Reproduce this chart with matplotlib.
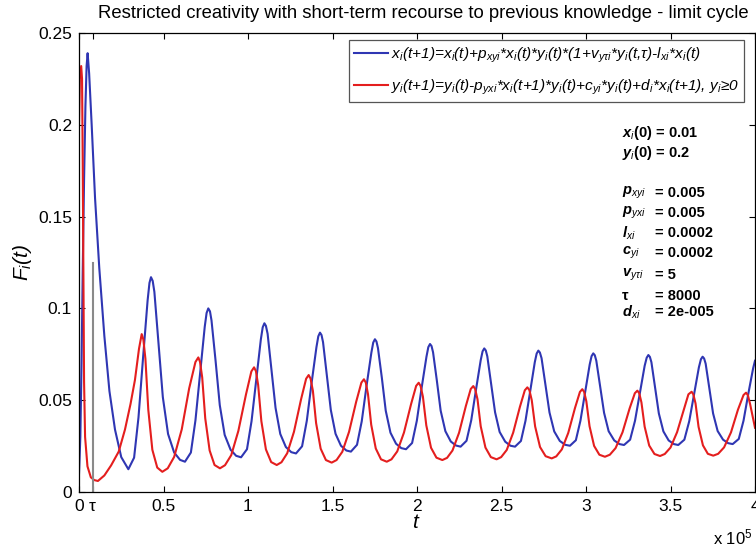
import matplotlib
matplotlib.use("Agg")
import matplotlib.pyplot as plt
from matplotlib.lines import Line2D

plt.rcParams['font.family'] = ['Liberation Sans', 'DejaVu Sans']
plt.rcParams['mathtext.fontset'] = 'custom'
plt.rcParams['mathtext.rm'] = 'Liberation Sans'
plt.rcParams['mathtext.it'] = 'Liberation Sans:italic'
plt.rcParams['mathtext.bf'] = 'Liberation Sans:bold'
plt.rcParams['mathtext.bfit'] = 'Liberation Sans:italic:bold'

# time in units of 1e5
t_blue = [0, 0.008, 0.015, 0.022, 0.030, 0.038, 0.045, 0.051,
          0.060, 0.075, 0.095, 0.120, 0.150, 0.180, 0.213, 0.250, 0.292,
          0.326, 0.352, 0.379, 0.406, 0.417, 0.426,
          0.436, 0.446, 0.470, 0.496, 0.527, 0.563, 0.598, 0.627,
          0.662, 0.689, 0.717, 0.744, 0.755, 0.765,
          0.775, 0.784, 0.808, 0.833, 0.862, 0.897, 0.930, 0.959,
          0.994, 1.021, 1.049, 1.076, 1.087, 1.097,
          1.106, 1.116, 1.138, 1.163, 1.191, 1.224, 1.256, 1.284,
          1.320, 1.348, 1.376, 1.405, 1.416, 1.426,
          1.435, 1.444, 1.466, 1.490, 1.518, 1.550, 1.582, 1.609,
          1.645, 1.673, 1.701, 1.730, 1.741, 1.751,
          1.760, 1.769, 1.792, 1.815, 1.843, 1.876, 1.907, 1.935,
          1.971, 1.999, 2.027, 2.056, 2.067, 2.077,
          2.086, 2.095, 2.117, 2.140, 2.168, 2.200, 2.231, 2.258,
          2.293, 2.321, 2.349, 2.377, 2.388, 2.398,
          2.407, 2.416, 2.438, 2.462, 2.489, 2.522, 2.553, 2.580,
          2.615, 2.642, 2.670, 2.697, 2.708, 2.718,
          2.727, 2.737, 2.759, 2.784, 2.812, 2.845, 2.877, 2.905,
          2.940, 2.967, 2.995, 3.022, 3.033, 3.043,
          3.052, 3.061, 3.083, 3.107, 3.134, 3.167, 3.198, 3.225,
          3.261, 3.290, 3.319, 3.347, 3.359, 3.369,
          3.378, 3.387, 3.408, 3.431, 3.458, 3.489, 3.520, 3.546,
          3.582, 3.611, 3.640, 3.668, 3.680, 3.690,
          3.699, 3.708, 3.729, 3.752, 3.779, 3.811, 3.841, 3.868,
          3.904, 3.932, 3.960, 3.989, 4.000]
x_blue = [0.010, 0.030, 0.070, 0.120, 0.170, 0.210, 0.232, 0.239,
          0.228, 0.200, 0.160, 0.122, 0.085, 0.055, 0.034, 0.019, 0.0124,
          0.0187, 0.0406, 0.0731, 0.1044, 0.1139, 0.117,
          0.115, 0.109, 0.0818, 0.0517, 0.0316, 0.0215, 0.0175, 0.0165,
          0.0215, 0.0390, 0.0649, 0.0900, 0.0975, 0.100,
          0.0984, 0.0935, 0.0716, 0.0473, 0.0311, 0.0230, 0.0197, 0.0189,
          0.0233, 0.0386, 0.0612, 0.0831, 0.0897, 0.0919,
          0.0905, 0.0862, 0.0671, 0.0458, 0.0316, 0.0245, 0.0217, 0.0210,
          0.0249, 0.0388, 0.0592, 0.0789, 0.0848, 0.0868,
          0.0855, 0.0816, 0.0641, 0.0447, 0.0317, 0.0252, 0.0226, 0.0220,
          0.0257, 0.0385, 0.0575, 0.0759, 0.0814, 0.0832,
          0.0820, 0.0784, 0.0622, 0.0443, 0.0323, 0.0263, 0.0239, 0.0233,
          0.0267, 0.0388, 0.0565, 0.0737, 0.0789, 0.0806,
          0.0795, 0.0761, 0.0610, 0.0443, 0.0331, 0.0275, 0.0253, 0.0247,
          0.0279, 0.0391, 0.0557, 0.0718, 0.0766, 0.0782,
          0.0771, 0.0739, 0.0595, 0.0434, 0.0327, 0.0274, 0.0252, 0.0247,
          0.0278, 0.0388, 0.0550, 0.0707, 0.0754, 0.0770,
          0.0760, 0.0729, 0.0589, 0.0433, 0.0330, 0.0278, 0.0257, 0.0252,
          0.0282, 0.0388, 0.0544, 0.0695, 0.0740, 0.0755,
          0.0745, 0.0715, 0.0580, 0.0431, 0.0331, 0.0281, 0.0261, 0.0256,
          0.0285, 0.0388, 0.0540, 0.0687, 0.0731, 0.0746,
          0.0736, 0.0707, 0.0575, 0.0428, 0.0330, 0.0281, 0.0261, 0.0256,
          0.0285, 0.0386, 0.0535, 0.0679, 0.0723, 0.0737,
          0.0727, 0.0699, 0.0570, 0.0428, 0.0332, 0.0285, 0.0266, 0.0261,
          0.0289, 0.0388, 0.0533, 0.0674, 0.0715]

t_red = [0, 0.005, 0.013, 0.018, 0.022, 0.026, 0.030, 0.036, 0.050, 0.070, 0.090, 0.112,
         0.150, 0.190, 0.235, 0.272, 0.305, 0.331, 0.355, 0.371,
         0.381, 0.393, 0.410, 0.434, 0.463, 0.493,
         0.525, 0.563, 0.608, 0.652, 0.689, 0.706,
         0.716, 0.729, 0.747, 0.773, 0.802, 0.834,
         0.864, 0.901, 0.943, 0.988, 1.020, 1.036,
         1.047, 1.060, 1.079, 1.106, 1.137, 1.170,
         1.198, 1.232, 1.272, 1.314, 1.344, 1.359,
         1.370, 1.384, 1.403, 1.430, 1.461, 1.495,
         1.524, 1.558, 1.598, 1.640, 1.671, 1.686,
         1.697, 1.710, 1.729, 1.756, 1.787, 1.821,
         1.849, 1.883, 1.923, 1.965, 1.995, 2.010,
         2.021, 2.035, 2.055, 2.083, 2.115, 2.150,
         2.178, 2.210, 2.249, 2.289, 2.318, 2.333,
         2.344, 2.358, 2.377, 2.405, 2.437, 2.471,
         2.498, 2.531, 2.569, 2.609, 2.638, 2.653,
         2.665, 2.679, 2.699, 2.728, 2.761, 2.797,
         2.824, 2.857, 2.895, 2.935, 2.964, 2.978,
         2.989, 3.002, 3.021, 3.048, 3.079, 3.112,
         3.141, 3.175, 3.216, 3.258, 3.289, 3.304,
         3.315, 3.328, 3.347, 3.374, 3.405, 3.438,
         3.466, 3.500, 3.539, 3.580, 3.606, 3.625,
         3.635, 3.648, 3.666, 3.692, 3.721, 3.753,
         3.782, 3.817, 3.858, 3.899, 3.932, 3.947,
         3.958, 3.971, 4.000]
y_red = [0.200, 0.225, 0.232, 0.225, 0.180, 0.120, 0.060, 0.030, 0.014, 0.008, 0.0065, 0.006,
         0.009, 0.0145, 0.022, 0.034, 0.048, 0.061, 0.078, 0.086,
         0.0830, 0.0725, 0.0448, 0.0230, 0.0133, 0.011,
         0.0129, 0.0191, 0.0341, 0.0565, 0.0708, 0.0733,
         0.0709, 0.0624, 0.0401, 0.0226, 0.0147, 0.0129,
         0.0146, 0.0201, 0.0333, 0.0531, 0.0657, 0.0679,
         0.0658, 0.0583, 0.0386, 0.0232, 0.0163, 0.0147,
         0.0162, 0.0211, 0.0328, 0.0505, 0.0617, 0.0637,
         0.0618, 0.0551, 0.0375, 0.0236, 0.0174, 0.0160,
         0.0174, 0.0219, 0.0328, 0.0491, 0.0596, 0.0614,
         0.0596, 0.0533, 0.0367, 0.0237, 0.0178, 0.0165,
         0.0178, 0.0221, 0.0324, 0.0479, 0.0578, 0.0595,
         0.0578, 0.0519, 0.0363, 0.0241, 0.0187, 0.0174,
         0.0186, 0.0226, 0.0323, 0.0468, 0.0561, 0.0577,
         0.0561, 0.0505, 0.0358, 0.0242, 0.0190, 0.0178,
         0.0190, 0.0229, 0.0323, 0.0464, 0.0554, 0.0570,
         0.0555, 0.0500, 0.0357, 0.0245, 0.0195, 0.0183,
         0.0194, 0.0232, 0.0322, 0.0458, 0.0545, 0.0560,
         0.0545, 0.0494, 0.0358, 0.0251, 0.0203, 0.0192,
         0.0203, 0.0239, 0.0325, 0.0455, 0.0538, 0.0552,
         0.0538, 0.0488, 0.0356, 0.0253, 0.0207, 0.0196,
         0.0207, 0.0242, 0.0326, 0.0452, 0.0532, 0.0546,
         0.0532, 0.0483, 0.0355, 0.0254, 0.0208, 0.0198,
         0.0208, 0.0243, 0.0325, 0.0448, 0.0528, 0.0541,
         0.0527, 0.0479, 0.0350]

tau = 0.08
tau_mark = 0.125

x_ticks = [0, tau, 0.5, 1, 1.5, 2, 2.5, 3, 3.5, 4]
x_labels = ['0', 'τ', '0.5', '1', '1.5', '2', '2.5', '3', '3.5', '4']
y_ticks = [0, 0.05, 0.1, 0.15, 0.2, 0.25]
y_labels = ['0', '0.05', '0.1', '0.15', '0.2', '0.25']

params = [('$\\mathbfit{p}_{xyi}$', '= 0.005'),
          ('$\\mathbfit{p}_{yxi}$', '= 0.005'),
          ('$\\mathbfit{l}_{xi}$', '= 0.0002'),
          ('$\\mathbfit{c}_{yi}$', '= 0.0002'),
          ('$\\mathbfit{v}_{y\\tau i}$', '= 5'),
          ('τ', '= 8000'),
          ('$\\mathbfit{d}_{xi}$', '= 2e-005')]

lbl_x = 'x$_i$(t+1)=x$_i$(t)+p$_{xyi}$*x$_i$(t)*y$_i$(t)*(1+v$_{y\\tau i}$*y$_i$(t,τ)-l$_{xi}$*x$_i$(t)'
lbl_y = 'y$_i$(t+1)=y$_i$(t)-p$_{yxi}$*x$_i$(t+1)*y$_i$(t)+c$_{yi}$*y$_i$(t)+d$_i$*x$_i$(t+1), y$_i$≥0'

blue = '#2f36b3'
red = '#e41e1e'

W, H = 756, 548
fig = plt.figure(figsize=(W / 100, H / 100), dpi=100)
ax = fig.add_axes([79 / W, 1 - 492 / H, 676 / W, 459 / H])

ax.plot(t_blue, x_blue, color=blue, lw=1.5)
ax.plot(t_red, y_red, color=red, lw=1.5)
ax.plot([tau, tau], [0, tau_mark], color='#8a8a8a', lw=1.5)

ax.set_xlim(0, 4)
ax.set_ylim(0, 0.25)
ax.set_xticks(x_ticks)
ax.set_xticklabels(x_labels)
ax.set_yticks(y_ticks)
ax.set_yticklabels(y_labels)
ax.tick_params(direction='in', top=True, right=True, length=4.5, width=0.8,
               labelsize=12.5, pad=5)
for s in ax.spines.values():
    s.set_linewidth(0.9)

handles = [Line2D([], [], color=blue, lw=1.5), Line2D([], [], color=red, lw=1.5)]
leg = ax.legend(handles, [lbl_x, lbl_y], loc='upper left',
                bbox_to_anchor=((349 - 79) / 676, 1 - (40 - 33) / 459),
                borderaxespad=0, fancybox=False, framealpha=1,
                prop={'size': 11.1, 'style': 'italic'}, handlelength=2.2,
                handletextpad=0.15, borderpad=0.35, labelspacing=0.85)
leg.get_frame().set_edgecolor('#555555')
leg.get_frame().set_linewidth(0.9)


def fx(px):
    return px / W


def fy(py):
    return 1 - py / H


fig.text(fx(423), fy(13), 'Restricted creativity with short-term recourse to previous knowledge - limit cycle',
         ha='center', va='center', fontsize=13.3)
fig.text(fx(22), fy(262), 'F$_i$(t)', rotation=90, ha='center', va='center',
         fontsize=15, style='italic')
fig.text(fx(415), fy(523), 't', ha='center', va='center', fontsize=15, style='italic')
fig.text(fx(753), fy(537), 'x 10$^5$', ha='right', va='center', fontsize=12)

# initial conditions and parameters
fig.text(fx(622), fy(133), '$\\mathbfit{x}_i$(0) = 0.01', ha='left', va='center',
         fontsize=10.5, weight='bold')
fig.text(fx(622), fy(153), '$\\mathbfit{y}_i$(0) = 0.2', ha='left', va='center',
         fontsize=10.5, weight='bold')
param_y = [193, 213, 233, 253, 275, 296, 312]
for (name, val), py in zip(params, param_y):
    fig.text(fx(622), fy(py), name, ha='left', va='center', fontsize=10.5, weight='bold')
    fig.text(fx(655), fy(py), val, ha='left', va='center', fontsize=10.5, weight='bold')

fig.savefig('out.png', dpi=100)
